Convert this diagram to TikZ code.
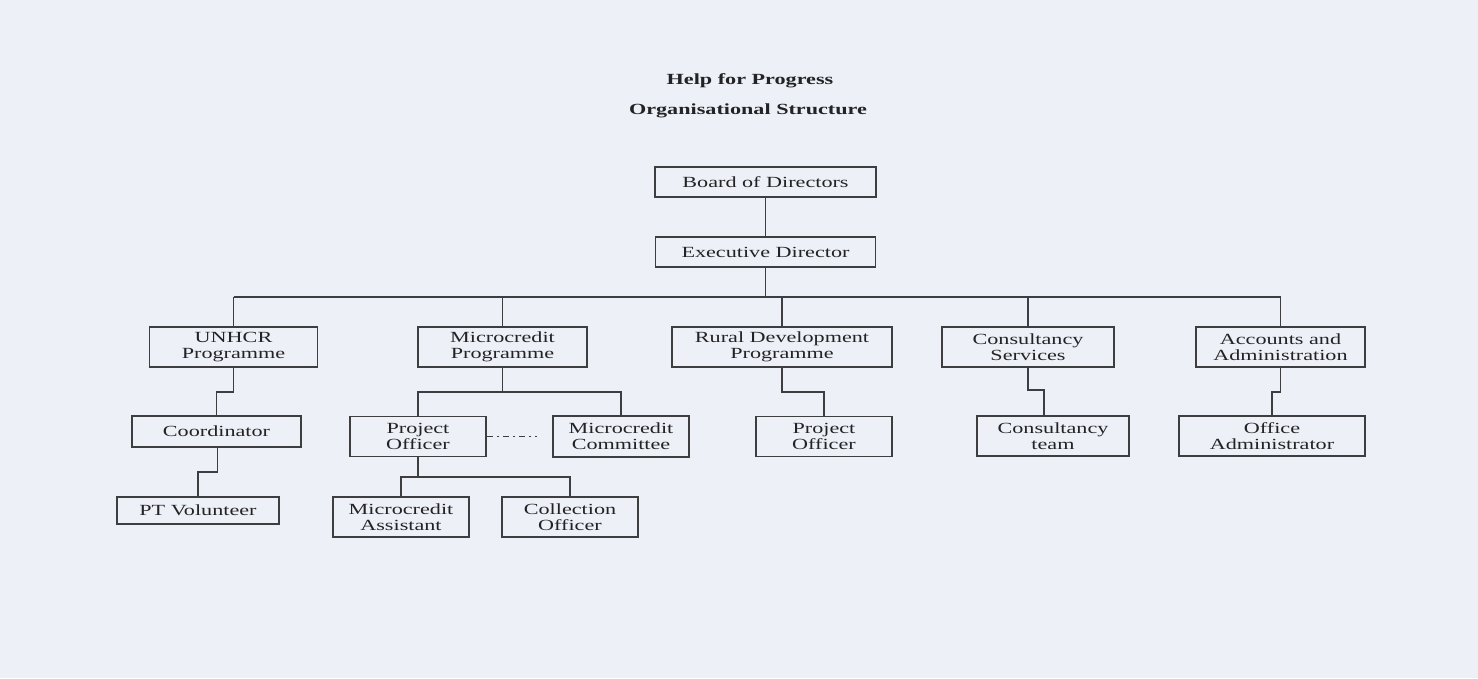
\documentclass[tikz,border=0pt]{standalone}
\usepackage{fontspec}
\setmainfont[FakeStretch=1.43]{Liberation Serif}
\definecolor{paper}{HTML}{EDF1F7}
\definecolor{ink}{HTML}{3E3E40}
\definecolor{txt}{HTML}{232325}
\begin{document}
\begin{tikzpicture}[x=1pt,y=-1pt,
  unit/.style={draw=ink, line width=1.7pt, fill=paper, text=txt, inner sep=0pt,
    align=center, font=\fontsize{15.5}{16}\selectfont},
  link/.style={draw=ink, line width=1.7pt},
  advisory/.style={draw=ink, line width=1.6pt, dash pattern=on 6pt off 4pt on 2pt off 4pt},
  heading/.style={text=txt, font=\fontsize{15.5}{16}\selectfont\bfseries}]
\fill[paper] (0,0) rectangle (1478,678);
\useasboundingbox (0,0) rectangle (1478,678);

% titles
\node[heading] (t1) at (750,81) {Help for Progress};
\node[heading] (t2) at (748,111) {Organisational Structure};

% top of the hierarchy
\node[unit, minimum width=221pt, minimum height=30pt] (bod) at (765.5,182) {Board of Directors};
\node[unit, minimum width=220pt, minimum height=30pt] (exd) at (765.5,252) {Executive Director};

% departments
\node[unit, minimum width=168pt, minimum height=40pt] (unhcr) at (233.5,347) {UNHCR\\Programme};
\node[unit, minimum width=169pt, minimum height=40pt] (mcp) at (502.5,347) {Microcredit\\Programme};
\node[unit, minimum width=220pt, minimum height=40pt] (rdp) at (782,347) {Rural Development\\Programme};
\node[unit, minimum width=172pt, minimum height=40pt] (cs) at (1028,347) {Consultancy\\Services};
\node[unit, minimum width=169pt, minimum height=40pt] (aa) at (1280.5,347) {Accounts and\\Administration};

% staff level
\node[unit, minimum width=169pt, minimum height=31pt] (coord) at (216.5,431.5) {Coordinator};
\node[unit, minimum width=162pt, minimum height=27pt] (ptv) at (198,510.5) {PT Volunteer};
\node[unit, minimum width=136pt, minimum height=40pt] (po1) at (418,436.5) {Project\\Officer};
\node[unit, minimum width=136pt, minimum height=41pt] (mcc) at (621,436.5) {Microcredit\\Committee};
\node[unit, minimum width=136pt, minimum height=40pt] (mca) at (401,517) {Microcredit\\Assistant};
\node[unit, minimum width=136pt, minimum height=40pt] (col) at (570,517) {Collection\\Officer};
\node[unit, minimum width=136pt, minimum height=40pt] (po2) at (824,436.5) {Project\\Officer};
\node[unit, minimum width=152pt, minimum height=40pt] (ct) at (1053,436) {Consultancy\\team};
\node[unit, minimum width=186pt, minimum height=40pt] (oa) at (1272,436) {Office\\Administrator};

% bus levels
\coordinate (bus) at (0,297);
\coordinate (lvA) at (0,392);
\coordinate (lvB) at (0,472);
\coordinate (lvC) at (0,477);

% board to executive, executive to bus
\draw[link] (bod.south) -- (exd.north);
\draw[link] (exd.south) -- (exd.south |- bus);
\draw[link] (unhcr.north |- bus) -- (aa.north |- bus);
\foreach \d in {unhcr,mcp,rdp,cs,aa}
  \draw[link] (\d.north |- bus) -- (\d.north);

% UNHCR branch
\draw[link] (unhcr.south) -- (unhcr.south |- lvA) -| (coord.north);
\draw[link] ([xshift=1pt]coord.south) -- ([xshift=1pt]coord.south |- lvB) -| (ptv.north);

% Microcredit branch
\draw[link] (mcp.south) -- (mcp.south |- lvA);
\draw[link] (po1.north) |- (mcp.south |- lvA) -| (mcc.north);
\draw[link] (po1.south) -- (po1.south |- lvC);
\draw[link] (mca.north) |- (po1.south |- lvC) -| (col.north);
\draw[advisory] (po1.east) -- ([xshift=-15pt]mcc.west);

% Rural development branch
\draw[link] (rdp.south) -- (rdp.south |- lvA) -| (po2.north);

% Consultancy branch
\draw[link] (cs.south) -- (cs.south |- 0,390) -| ([xshift=-9pt]ct.north);

% Accounts branch
\draw[link] (aa.south) -- (aa.south |- lvA) -| (oa.north);
\end{tikzpicture}
\end{document}
